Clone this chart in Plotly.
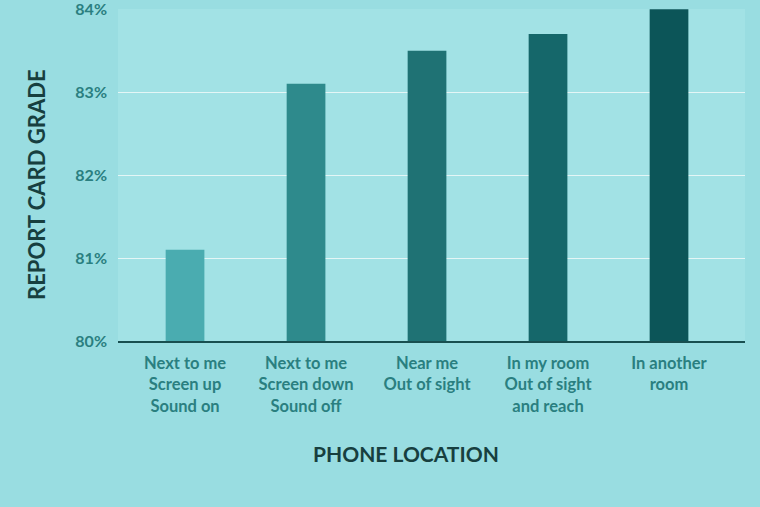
import plotly.graph_objects as go

locations = [
    "Next to me<br>Screen up<br>Sound on",
    "Next to me<br>Screen down<br>Sound off",
    "Near me<br>Out of sight",
    "In my room<br>Out of sight<br>and reach",
    "In another<br>room",
]
grades = [81.1, 83.1, 83.5, 83.7, 84.0]
bar_colors = ["#4aacb0", "#2e8a8c", "#1f7274", "#15676a", "#0c5558"]
y_ticks = [80, 81, 82, 83, 84]
y_tick_labels = ["80%", "81%", "82%", "83%", "84%"]

FONT = "Lato"

fig = go.Figure(go.Bar(
    x=list(range(len(locations))),
    y=grades,
    marker=dict(color=bar_colors, line=dict(width=0)),
    width=0.32,
    hoverinfo="skip",
))

fig.update_layout(
    width=760, height=507,
    margin=dict(l=118, r=15, t=9, b=166, autoexpand=False),
    paper_bgcolor="#99dde1",
    plot_bgcolor="#a2e2e5",
    showlegend=False,
    font=dict(family=FONT, color="#2a7f80"),
)

fig.update_xaxes(
    tickmode="array",
    tickvals=list(range(len(locations))),
    ticktext=locations,
    range=[-0.554, 4.628],
    showgrid=False,
    zeroline=False,
    showline=True, linecolor="#184f50", linewidth=2,
    ticks="", ticklabelstandoff=6,
    automargin=False,
    tickfont=dict(family=FONT, size=16.5, color="#2a7f80", weight="bold"),
)

fig.update_yaxes(
    range=[80, 84.002],
    tickmode="array",
    tickvals=y_ticks,
    ticktext=y_tick_labels,
    ticklabeloverflow="allow",
    automargin=False,
    showgrid=True, gridcolor="#e4f6f6", gridwidth=1,
    zeroline=False,
    showline=False,
    ticks="", ticklabelstandoff=10,
    tickfont=dict(family=FONT, size=16, color="#2a7f80", weight="bold"),
)

# axis titles placed as annotations (they sit off-centre in the original)
plot_h = 507 - 9 - 166
fig.add_annotation(text="PHONE LOCATION", xref="paper", yref="paper",
                   x=(406 - 118) / 627, y=-(453 - 341) / plot_h,
                   showarrow=False,
                   font=dict(family=FONT, size=21, color="#173f3f", weight="bold"),
                   xanchor="center", yanchor="middle")
fig.add_annotation(text="REPORT CARD GRADE", xref="paper", yref="paper",
                   x=-(118 - 37) / 627, y=(341 - 185) / plot_h,
                   textangle=-90, showarrow=False,
                   font=dict(family=FONT, size=22, color="#173f3f", weight="bold"),
                   xanchor="center", yanchor="middle")

fig.write_html("out.html", config={"displayModeBar": False},
               post_script="document.body.style.margin='0';")
